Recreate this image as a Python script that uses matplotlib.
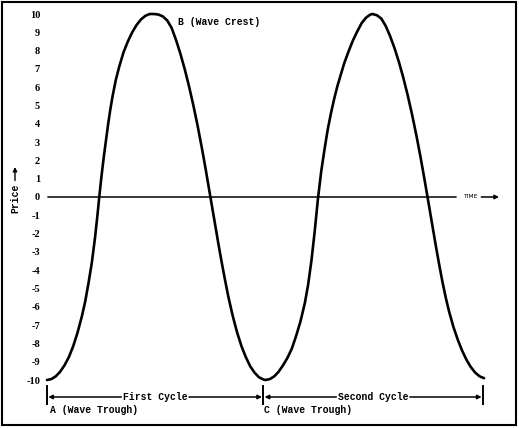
import matplotlib
matplotlib.use("Agg")
import matplotlib.pyplot as plt
from matplotlib.patches import Rectangle

plt.rcParams['axes.unicode_minus'] = False

# ---- data (time in arbitrary units, price -10..10) ----
time = [0, 2, 4, 6, 8, 10, 12, 14, 16, 17.5, 19, 20.5, 22, 23, 24, 25, 26, 27, 28, 29, 30,
        31.5, 33, 35, 37, 39, 41, 43, 45, 47, 49,
        51, 53, 55, 57, 59, 61, 63, 65, 67, 69, 71, 72.5, 74, 75.5, 77, 78.5, 80, 81.5, 83,
        85, 87, 89, 91, 93, 95, 97, 99, 100,
        102, 104, 106, 108, 110, 112, 114, 116, 118, 119.5, 121, 122.5, 124, 125.5, 127, 128.5,
        130, 131.5, 133, 134.5, 136, 138, 140, 142, 144, 146, 148, 149,
        151, 153, 155, 157, 159, 161, 163, 165, 167, 169, 171, 173, 174.8, 176.5, 178, 179.5,
        181, 182.5, 184, 186, 188, 190, 192, 194, 196, 198, 200]
price = [-10, -9.95, -9.8, -9.55, -9.2, -8.75, -8.15, -7.4, -6.5, -5.7, -4.7, -3.6, -2.2, -1.1,
         0.1, 1.2, 2.2, 3.1, 4.0, 4.8, 5.5, 6.4, 7.1, 7.9, 8.5, 9.0, 9.4, 9.7, 9.9, 10, 10,
         9.97, 9.87, 9.65, 9.25, 8.6, 7.85, 7.0, 6.05, 5.0, 3.85, 2.6, 1.6, 0.55, -0.5, -1.55, -2.6,
         -3.6, -4.55, -5.45, -6.5, -7.4, -8.15, -8.75, -9.25, -9.6, -9.85, -9.97, -10,
         -9.95, -9.8, -9.55, -9.2, -8.8, -8.3, -7.6, -6.8, -5.8, -4.8, -3.5, -1.9, -0.1, 1.4,
         2.6, 3.7, 4.6, 5.4, 6.1, 6.7, 7.3, 7.95, 8.55, 9.05, 9.5, 9.8, 9.97, 10,
         9.93, 9.75, 9.35, 8.8, 8.15, 7.4, 6.55, 5.6, 4.55, 3.4, 2.15, 0.8, -0.45, -1.65, -2.7, -3.7,
         -4.65, -5.5, -6.25, -7.1, -7.8, -8.4, -8.9, -9.3, -9.6, -9.8, -9.9]

price_ticks = list(range(-10, 11))
price_tick_labels = [str(v) for v in price_ticks]

cycle_bounds = [0, 99, 199.5]
cycle_names = ["First Cycle", "Second Cycle"]
point_labels = ["A (Wave Trough)", "B (Wave Crest)", "C (Wave Trough)"]
point_times = [0, 49, 99]
axis_names = ["Price", "TIME"]

# ---- figure ----
W, H, DPI = 519, 428, 100
fig = plt.figure(figsize=(W / DPI, H / DPI), dpi=DPI)
fig.patch.set_facecolor("white")

# pixel mapping: t=0 -> px 47, 2.185 px per unit; value 0 -> py 197, 18.3 px per unit
px_per_t, px_per_v = 2.185, 18.3
ax_l, ax_r, ax_t, ax_b = 47, 505, 5, 420
ax = fig.add_axes([ax_l / W, (H - ax_b) / H, (ax_r - ax_l) / W, (ax_b - ax_t) / H])
ax.set_xlim(0, (ax_r - ax_l) / px_per_t)
ax.set_ylim((197 - ax_b) / px_per_v, (197 - ax_t) / px_per_v)
for s in ax.spines.values():
    s.set_visible(False)
ax.set_xticks([])
ax.set_yticks(price_ticks)
ax.set_yticklabels(price_tick_labels, family="Liberation Serif", fontweight="bold", fontsize=7.5)
ax.tick_params(axis="y", length=0, pad=5)

mono = dict(family="Liberation Mono", fontsize=7, fontweight="bold", color="black")

# wave
ax.plot(time, price, color="black", lw=1.9, solid_capstyle="round",
        solid_joinstyle="round", clip_on=False)

# zero (time) axis with TIME label and arrow
t_time = (470 - 47) / px_per_t
ax.annotate("", xy=(0.4, 0), xytext=(t_time, 0), annotation_clip=False,
            arrowprops=dict(arrowstyle="-", lw=1.1, color="black", shrinkA=10, shrinkB=0))
ax.annotate(axis_names[1], xy=((499 - 47) / px_per_t, 0), xytext=(t_time, 0),
            ha="center", va="center", family="DejaVu Sans", fontsize=4.3, annotation_clip=False,
            arrowprops=dict(arrowstyle="-|>", lw=1.1, color="black", shrinkA=1, shrinkB=0,
                            mutation_scale=6))

# Price label with arrow
t_price = (15 - 47) / px_per_t
v_price = (197 - 198) / px_per_v
ax.annotate(axis_names[0], xy=(t_price, (197 - 167) / px_per_v), xytext=(t_price, v_price),
            rotation=90, ha="center", va="center", annotation_clip=False, **mono,
            arrowprops=dict(arrowstyle="-|>", lw=1.0, color="black", shrinkA=0, shrinkB=0,
                            mutation_scale=6))

# cycle markers
v_tick_top = (197 - 386) / px_per_v
v_tick_bot = (197 - 404) / px_per_v
v_arrow = (197 - 397) / px_per_v
for b in cycle_bounds:
    ax.plot([b, b], [v_tick_top, v_tick_bot], color="black", lw=1.4, clip_on=False)
for i, name in enumerate(cycle_names):
    t0, t1 = cycle_bounds[i], cycle_bounds[i + 1]
    tm = (t0 + t1) / 2
    ax.text(tm, v_arrow, name, ha="center", va="center", **mono)
    half = len(name) * 0.6 * 7 / 72 * DPI / px_per_t / 2 + 0.8
    ax.annotate("", xy=(t0 + 0.6, v_arrow), xytext=(tm - half, v_arrow), annotation_clip=False,
                arrowprops=dict(arrowstyle="-|>", lw=1.1, color="black", shrinkA=0, shrinkB=0,
                                mutation_scale=6))
    ax.annotate("", xy=(t1 - 0.6, v_arrow), xytext=(tm + half, v_arrow), annotation_clip=False,
                arrowprops=dict(arrowstyle="-|>", lw=1.1, color="black", shrinkA=0, shrinkB=0,
                                mutation_scale=6))

# point labels
v_low = (197 - 410) / px_per_v
ax.text(point_times[0] + 1.4, v_low, point_labels[0], ha="left", va="center", **mono)
ax.text(point_times[2] + 0.2, v_low, point_labels[2], ha="left", va="center", **mono)
ax.text(point_times[1] + 11, (197 - 22) / px_per_v, point_labels[1], ha="left", va="center", **mono)

# outer frame
fig.patches.append(Rectangle((1.5 / W, 3 / H), 514.5 / W, (H - 4.5) / H,
                             transform=fig.transFigure, fill=False, edgecolor="black", lw=1.5))

fig.savefig("out.png", dpi=DPI, facecolor="white")
